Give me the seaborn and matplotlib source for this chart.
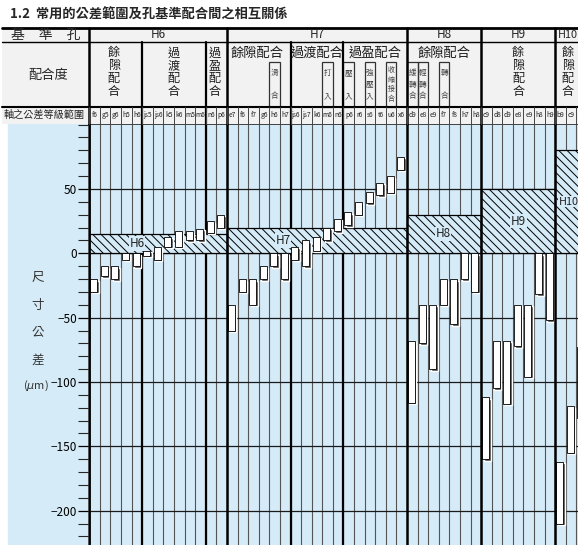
import numpy as np
import matplotlib.pyplot as plt
import seaborn as sns
from matplotlib.patches import Rectangle

# shaft tolerance classes, one column each (left to right)
shaft_labels = ['f6', 'g5', 'g6', 'h5', 'h6', 'js5', 'js6', 'k5', 'k6', 'm5', 'm6', 'n6', 'p6',
                'e7', 'f6', 'f7', 'g6', 'h6', 'h7', 'js6', 'js7', 'k6', 'm6', 'n6',
                'p6', 'r6', 's6', 't6', 'u6', 'x6',
                'd9', 'e8', 'e9', 'f7', 'f8', 'h7', 'h8',
                'c9', 'd8', 'd9', 'e8', 'e9', 'h8', 'h9',
                'b9', 'c9', 'd9']
shaft_upper = [-20, -10, -10, 0, 0, 2, 5, 13, 17, 17, 19, 25, 30,
               -40, -20, -20, -10, 0, 0, 5, 10, 13, 20, 27,
               32, 40, 48, 55, 60, 75,
               -68, -40, -40, -20, -20, 0, 0,
               -112, -68, -68, -40, -40, 0, 0,
               -162, -119, -73]
shaft_lower = [-30, -18, -20, -5, -10, -2, -5, 5, 5, 10, 10, 16, 20,
               -60, -30, -40, -20, -10, -20, -5, -10, 2, 10, 17,
               22, 30, 39, 45, 47, 65,
               -116, -70, -90, -40, -55, -20, -30,
               -160, -105, -117, -72, -96, -32, -52,
               -210, -155, -128]

# hole basis groups: name, first column, last column (exclusive), upper deviation
hole_names = ['H6', 'H7', 'H8', 'H9', 'H10']
hole_start = [0, 13, 30, 37, 44]
hole_end = [13, 30, 37, 44, 47]
hole_upper = [15, 20, 30, 50, 80]
hole_label_x = [4.5, 18.3, 33.4, 40.5, 44.3]

fit_bounds = [5, 11, 19, 24]

# header texts
fit_vertical = [(2.3, '餘隙配合'), (8.0, '過渡配合'), (11.8, '過盈配合'),
                (40.5, '餘隙配合'), (45.2, '餘隙配合')]
fit_horizontal = [(15.8, '餘隙配合'), (21.5, '過渡配合'), (27.0, '過盈配合'), (33.5, '餘隙配合')]
sub_boxes = [(17, '滑\n\n合'), (22, '打\n\n入'), (24, '壓\n\n入'), (26, '強\n壓\n入'),
             (30, '緩\n轉\n合'), (31, '輕\n轉\n合'), (33, '轉\n\n合')]
sub_box_small = [(28, '收\n縮\n接\n合')]

sns.set_style('white')
plt.rcParams['font.family'] = ['Liberation Sans Narrow', 'Noto Sans CJK TC', 'DejaVu Sans']
plt.rcParams['hatch.linewidth'] = 0.7

W, H = 578, 545
x0_px, col_px = 89.3, 10.59
top_px, zero_px, um_px = 123.5, 253.3, 1.287
blue = '#d5ebf7'


def cx(px):
    return (px - x0_px) / col_px


fig = plt.figure(figsize=(W / 100, H / 100), dpi=100)
fig.patch.set_facecolor('white')

# ---- main plot ----
ax = fig.add_axes([x0_px / W, 0, 1 - x0_px / W, (H - top_px) / H])
ax.set_xlim(0, cx(W))
ax.set_ylim((zero_px - H) / um_px, (zero_px - top_px) / um_px)
ax.set_facecolor(blue)
fig.add_artist(Rectangle((8 / W, 0), (x0_px - 8) / W, (H - top_px) / H,
                         transform=fig.transFigure, color=blue, zorder=-1))

cols = np.arange(len(shaft_labels))
for k in range(len(shaft_labels) + 1):
    ax.axvline(k, color='#555555', lw=0.8, zorder=1)
for k in fit_bounds:
    ax.axvline(k, color='black', lw=1.6, zorder=1.5)
for yv in range(-200, 51, 50):
    ax.axhline(yv, color='#1a1a1a', lw=0.9, zorder=1.2)

# hole tolerance bands
for name, s, e, up, lx in zip(hole_names, hole_start, hole_end, hole_upper, hole_label_x):
    ax.bar(s, up, width=e - s, bottom=0, align='edge', facecolor=blue,
           edgecolor='black', hatch='\\\\\\\\', lw=0.9, zorder=2)
    if name == 'H10':
        ax.text(lx, up / 2, name, ha='left', va='center', fontsize=7.8, color='#222222',
                bbox=dict(facecolor=blue, edgecolor='none', pad=0.3), zorder=2.5)
    else:
        ax.text(lx, up / 2, name, ha='center', va='center', fontsize=8.5, color='#222222',
                bbox=dict(facecolor=blue, edgecolor='none', pad=0.6), zorder=2.5)

for k in hole_start:
    ax.axvline(k, color='black', lw=1.8, zorder=4)

# shaft tolerance boxes
upper = np.array(shaft_upper, dtype=float)
lower = np.array(shaft_lower, dtype=float)
ax.bar(cols + 0.56, upper - lower, bottom=lower - 1.2, width=0.66,
       color='#4a4a4a', zorder=3)
ax.bar(cols + 0.42, upper - lower, bottom=lower, width=0.66,
       color='white', edgecolor='black', lw=0.6, zorder=3.2)

ax.set_xticks([])
ax.set_yticks(range(-200, 51, 50))
ax.set_yticks(range(-220, 101, 10), minor=True)
ax.tick_params(axis='y', which='major', direction='out', length=8, width=0.9,
               labelsize=8.5, colors='black', left=True, pad=1)
ax.tick_params(axis='y', which='minor', direction='out', length=8, width=0.8, left=True)
sns.despine(ax=ax, top=False, right=True, bottom=True, left=False)
ax.spines['left'].set_linewidth(1.8)
ax.spines['top'].set_linewidth(1.2)

for ch, yy in zip(['尺', '寸', '公', '差'], [277, 305, 332, 360]):
    fig.text(38 / W, 1 - yy / H, ch, ha='center', va='center', fontsize=9, color='#333333')
fig.text(36 / W, 1 - 386 / H, r'($\mu$m)', ha='center', va='center', fontsize=8, color='#333333')

# ---- header table ----
hax = fig.add_axes([x0_px / W, (H - top_px) / H, 1 - x0_px / W, (top_px - 26) / H])
hax.set_xlim(0, cx(W))
hax.set_ylim(top_px, 26)
hax.axis('off')

x_left = cx(2)
x_right = cx(W)
hax.add_patch(Rectangle((x_left, 28), x_right - x_left, top_px - 28,
                        facecolor='#f2f2f2', edgecolor='none', clip_on=False, zorder=0))
hax.plot([x_left, x_right], [28, 28], color='black', lw=2, clip_on=False)
hax.plot([x_left, x_right], [42, 42], color='black', lw=1, clip_on=False)
hax.plot([x_left, x_right], [106.5, 106.5], color='black', lw=1.5, clip_on=False)

for k in hole_start:
    hax.plot([k, k], [28, top_px], color='black', lw=1.8, clip_on=False)
for k in fit_bounds:
    hax.plot([k, k], [42, top_px], color='black', lw=1.6, clip_on=False)
for k in range(len(shaft_labels) + 1):
    hax.plot([k, k], [106.5, top_px], color='#444444', lw=0.7, clip_on=False)

hax.text(cx(46), 35, '基　準　孔', ha='center', va='center', fontsize=10, clip_on=False)
hax.text(cx(48), 75, '配合度', ha='center', va='center', fontsize=9.5, clip_on=False)
hax.text(cx(44), 115, '軸之公差等級範圍', ha='center', va='center', fontsize=7.3, clip_on=False)

for name, s, e in zip(hole_names, hole_start, hole_end):
    if name == 'H10':
        hax.text(s + 0.2, 35, name, ha='left', va='center', fontsize=7.8)
    else:
        hax.text((s + e) / 2, 35, name, ha='center', va='center', fontsize=8.5)

for xc, txt in fit_vertical:
    hax.text(xc, 72, '\n'.join(txt), ha='center', va='center', fontsize=8.7,
             linespacing=0.98, color='#1a1a1a')
for xc, txt in fit_horizontal:
    hax.text(xc, 53, txt, ha='center', va='center', fontsize=9.5, color='#1a1a1a')

for k, txt in sub_boxes:
    hax.add_patch(Rectangle((k, 62), 1, 106.5 - 62, fill=False, edgecolor='#333333', lw=0.9))
    hax.text(k + 0.5, 84.5, txt, ha='center', va='center', fontsize=5.5,
             linespacing=1.6, color='#444444')
for k, txt in sub_box_small:
    hax.add_patch(Rectangle((k, 62), 1, 106.5 - 62, fill=False, edgecolor='#333333', lw=0.9))
    hax.text(k + 0.5, 84.5, txt, ha='center', va='center', fontsize=5,
             linespacing=1.3, color='#444444')

for k, lab in enumerate(shaft_labels):
    if k + 1 <= cx(W):
        hax.text(k + 0.5, 115, lab, ha='center', va='center', fontsize=4.8, color='#222222')

fig.text(10 / W, 1 - 15 / H, '1.2  常用的公差範圍及孔基準配合間之相互關係',
         ha='left', va='center', fontsize=9.5, fontweight='bold')

fig.savefig('out.png', dpi=100)
